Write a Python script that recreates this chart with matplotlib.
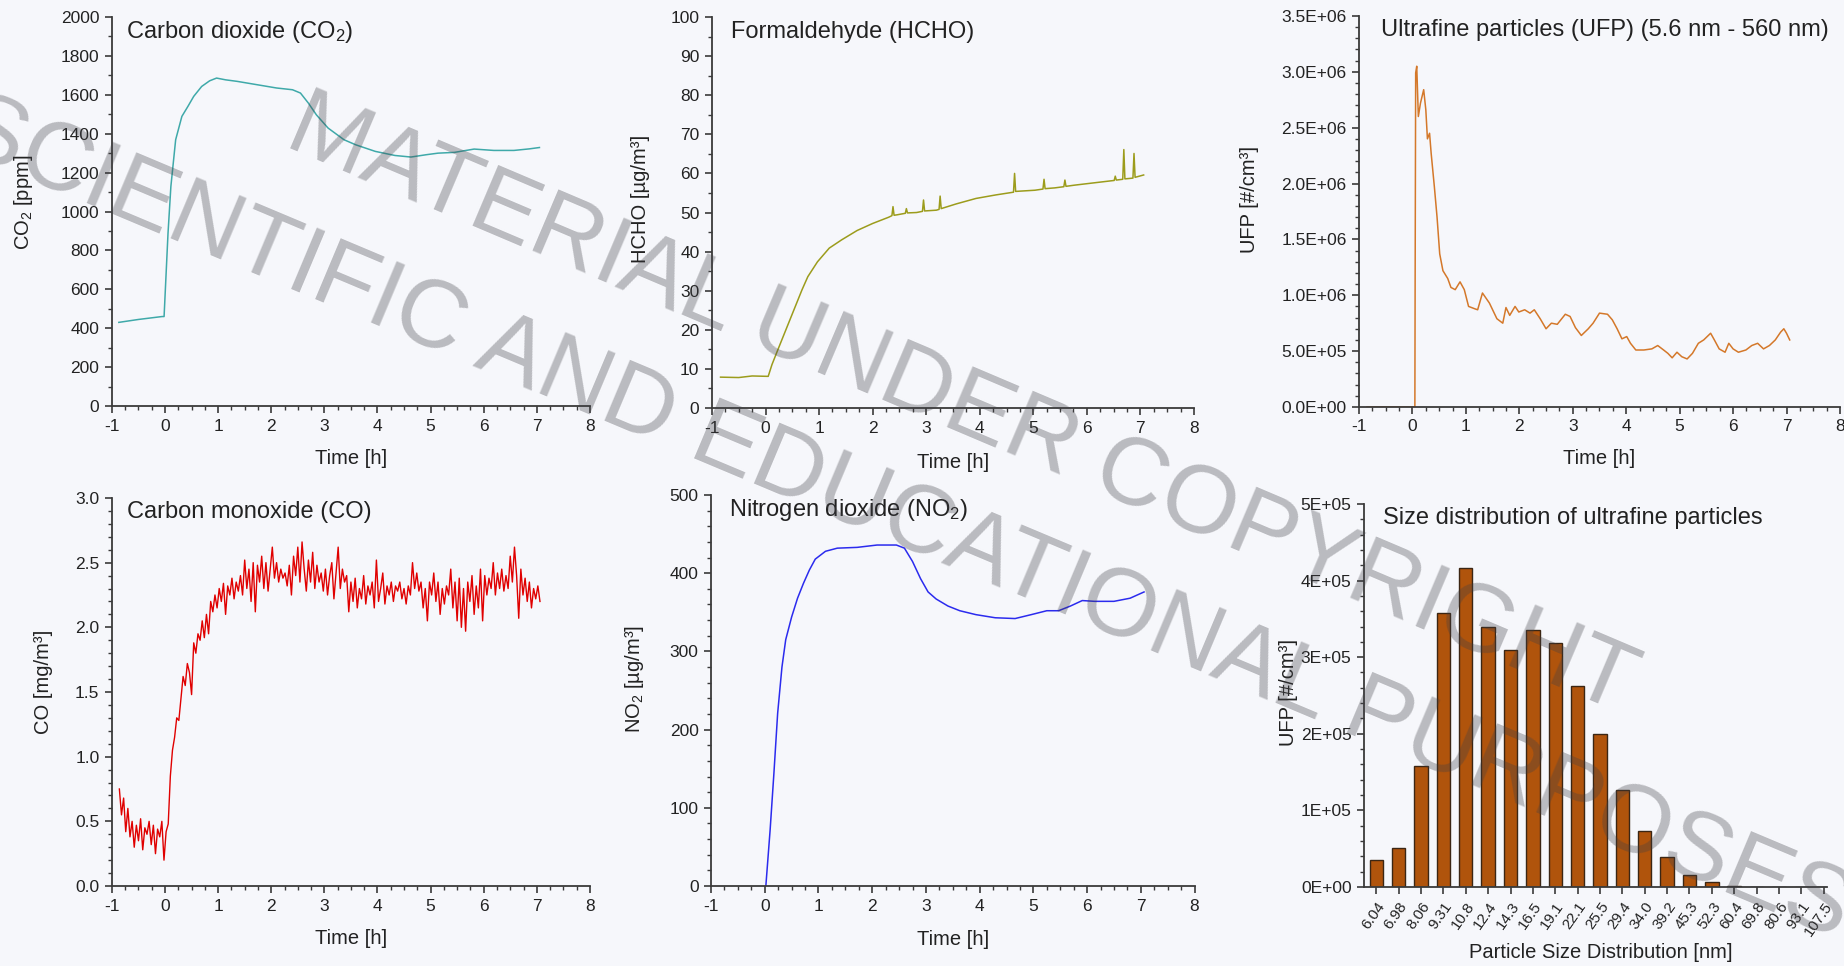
import numpy as np
import matplotlib
matplotlib.use("Agg")
import matplotlib.pyplot as plt
from matplotlib.ticker import MultipleLocator, FixedLocator, FormatStrFormatter

plt.rcParams["font.family"] = ["Liberation Sans", "DejaVu Sans"]
plt.rcParams["axes.unicode_minus"] = False
plt.rcParams["mathtext.fontset"] = "custom"
plt.rcParams["mathtext.rm"] = "Liberation Sans"
plt.rcParams["mathtext.it"] = "Liberation Sans:italic"
plt.rcParams["mathtext.default"] = "regular"

# ---------------- data ----------------
# Carbon dioxide [ppm]
co2_t = [-0.87, -0.5, -0.055, -0.018, 0.056, 0.11, 0.2, 0.317, 0.43, 0.54, 0.69, 0.84,
         0.97, 1.14, 1.36, 1.73, 2.1, 2.4, 2.55, 2.7, 2.85, 3.07, 3.37, 3.59, 3.96,
         4.33, 4.63, 4.92, 5.14, 5.45, 5.82, 6.19, 6.57, 6.86, 7.05]
co2_v = [430, 445, 460, 460, 888, 1129, 1369, 1489, 1540, 1592, 1643, 1672,
         1686, 1677, 1669, 1652, 1635, 1626, 1609, 1557, 1497, 1429, 1369, 1343, 1309,
         1288, 1280, 1292, 1300, 1304, 1321, 1314, 1314, 1322, 1329]

# Formaldehyde [ug/m3]
hcho_t = [-0.84, -0.5, -0.25, 0.05, 0.12, 0.23, 0.38, 0.53, 0.68, 0.79, 0.97, 1.19,
          1.42, 1.71, 2.0, 2.3, 2.36, 2.38, 2.40, 2.45, 2.61, 2.63, 2.65, 2.82, 2.93,
          2.95, 2.97, 3.19, 3.24, 3.26, 3.28, 3.56, 3.93, 4.3, 4.63, 4.65, 4.67, 5.03,
          5.18, 5.2, 5.22, 5.4, 5.57, 5.59, 5.61, 5.77, 6.14, 6.51, 6.53, 6.55, 6.67,
          6.69, 6.71, 6.86, 6.88, 6.90, 7.06]
hcho_v = [7.9, 7.8, 8.2, 8.1, 11.1, 14.9, 20.0, 25.1, 30.2, 33.6, 37.4, 40.9,
          43.0, 45.4, 47.2, 48.8, 49.2, 51.5, 49.3, 49.4, 49.8, 51.0, 49.9, 50.0, 50.3,
          53.2, 50.4, 50.6, 50.8, 54.2, 51.0, 52.2, 53.6, 54.5, 55.2, 60.0, 55.4, 55.7,
          56.0, 58.5, 56.1, 56.3, 56.6, 58.3, 56.7, 57.0, 57.6, 58.2, 59.3, 58.3, 58.5,
          66.1, 58.6, 58.8, 65.1, 59.0, 59.6]

# Ultrafine particles [#/cm3]
ufp_t = [-0.85, 0.024, 0.045, 0.05, 0.06, 0.08, 0.11, 0.15, 0.21, 0.25, 0.28, 0.32,
         0.35, 0.41, 0.46, 0.51, 0.57, 0.66, 0.72, 0.80, 0.89, 0.97, 1.05, 1.16, 1.22,
         1.31, 1.44, 1.58, 1.69, 1.75, 1.82, 1.92, 1.99, 2.1, 2.2, 2.28, 2.39, 2.5,
         2.6, 2.71, 2.86, 2.95, 3.05, 3.16, 3.29, 3.38, 3.5, 3.65, 3.74, 3.83, 3.92,
         4.01, 4.08, 4.18, 4.33, 4.48, 4.59, 4.7, 4.78, 4.86, 4.95, 5.04, 5.14, 5.24,
         5.35, 5.45, 5.58, 5.65, 5.74, 5.85, 5.92, 6.0, 6.1, 6.24, 6.35, 6.46, 6.57,
         6.68, 6.79, 6.89, 6.95, 7.0, 7.06]
ufp_v = [0, 0, 0, 1.12e6, 2.99e6, 3.05e6, 2.6e6, 2.72e6, 2.84e6, 2.66e6, 2.4e6, 2.45e6,
         2.27e6, 1.97e6, 1.70e6, 1.37e6, 1.22e6, 1.15e6, 1.07e6, 1.05e6, 1.12e6, 1.05e6,
         0.90e6, 0.88e6, 0.87e6, 1.02e6, 0.93e6, 0.79e6, 0.75e6, 0.89e6, 0.82e6, 0.90e6,
         0.85e6, 0.87e6, 0.84e6, 0.87e6, 0.79e6, 0.70e6, 0.75e6, 0.74e6, 0.83e6, 0.81e6,
         0.71e6, 0.64e6, 0.70e6, 0.75e6, 0.84e6, 0.83e6, 0.78e6, 0.70e6, 0.61e6, 0.63e6,
         0.57e6, 0.51e6, 0.51e6, 0.52e6, 0.55e6, 0.51e6, 0.48e6, 0.44e6, 0.49e6, 0.45e6,
         0.43e6, 0.48e6, 0.57e6, 0.60e6, 0.66e6, 0.60e6, 0.52e6, 0.49e6, 0.57e6, 0.52e6,
         0.49e6, 0.51e6, 0.55e6, 0.57e6, 0.52e6, 0.55e6, 0.60e6, 0.67e6, 0.70e6, 0.66e6,
         0.60e6]
ufp_ticklabels = ["0.0E+00", "5.0E+05", "1.0E+06", "1.5E+06", "2.0E+06",
                  "2.5E+06", "3.0E+06", "3.5E+06"]

# Carbon monoxide [mg/m3], sampled every 0.04 h from -0.86 h to 7.06 h
co_start, co_end = -0.86, 7.06
co_v = [0.75, 0.55, 0.68, 0.42, 0.60, 0.38, 0.50, 0.30, 0.47, 0.35, 0.52, 0.28,
        0.45, 0.40, 0.50, 0.32, 0.47, 0.25, 0.44, 0.38, 0.50, 0.20, 0.42, 0.48,
        0.85, 1.05, 1.15, 1.30, 1.28, 1.45, 1.62, 1.55, 1.72, 1.65, 1.48, 1.88,
        1.80, 1.95, 1.90, 2.05, 1.92, 2.10, 1.95, 2.20, 2.12, 2.25, 2.15, 2.30,
        2.20, 2.34, 2.10, 2.32, 2.25, 2.38, 2.22, 2.35, 2.28, 2.40, 2.25, 2.52,
        2.30, 2.45, 2.20, 2.50, 2.12, 2.48, 2.35, 2.55, 2.30, 2.50, 2.28, 2.45,
        2.62, 2.38, 2.50, 2.35, 2.45, 2.38, 2.42, 2.32, 2.48, 2.25, 2.55, 2.40,
        2.62, 2.35, 2.66, 2.45, 2.28, 2.52, 2.35, 2.58, 2.30, 2.48, 2.35, 2.42,
        2.28, 2.45, 2.25, 2.40, 2.50, 2.22, 2.42, 2.62, 2.30, 2.45, 2.35, 2.40,
        2.12, 2.35, 2.20, 2.38, 2.15, 2.30, 2.22, 2.40, 2.18, 2.32, 2.25, 2.35,
        2.15, 2.52, 2.20, 2.30, 2.42, 2.18, 2.32, 2.25, 2.35, 2.20, 2.32, 2.28,
        2.35, 2.22, 2.30, 2.18, 2.32, 2.25, 2.50, 2.30, 2.42, 2.28, 2.35, 2.15,
        2.30, 2.05, 2.35, 2.25, 2.42, 2.20, 2.35, 2.10, 2.30, 2.18, 2.32, 2.25,
        2.45, 2.15, 2.35, 2.05, 2.38, 2.00, 2.30, 1.97, 2.35, 2.20, 2.40, 2.10,
        2.32, 2.15, 2.45, 2.05, 2.40, 2.25, 2.38, 2.30, 2.50, 2.25, 2.42, 2.30,
        2.45, 2.28, 2.40, 2.30, 2.55, 2.35, 2.62, 2.40, 2.07, 2.45, 2.25, 2.38,
        2.20, 2.35, 2.15, 2.30, 2.22, 2.32, 2.20]

# Nitrogen dioxide [ug/m3]
no2_t = [0.02, 0.1, 0.17, 0.24, 0.32, 0.39, 0.5, 0.61, 0.72, 0.83, 0.94, 1.13, 1.35,
         1.72, 2.09, 2.45, 2.6, 2.75, 2.9, 3.04, 3.19, 3.41, 3.63, 3.93, 4.29, 4.66,
         4.96, 5.25, 5.47, 5.69, 5.91, 6.14, 6.5, 6.8, 7.06]
no2_v = [0, 72, 144, 221, 280, 315, 344, 368, 387, 404, 418, 428, 432,
         433, 436, 436, 432, 415, 393, 376, 367, 358, 352, 347, 343, 342,
         347, 352, 352, 358, 365, 364, 364, 368, 376]

# Size distribution of ultrafine particles
size_labels = ["6.04", "6.98", "8.06", "9.31", "10.8", "12.4", "14.3", "16.5", "19.1",
               "22.1", "25.5", "29.4", "34.0", "39.2", "45.3", "52.3", "60.4", "69.8",
               "80.6", "93.1", "107.5"]
size_counts = [3.5e4, 5.05e4, 1.58e5, 3.58e5, 4.17e5, 3.39e5, 3.10e5, 3.35e5, 3.19e5,
               2.63e5, 2.0e5, 1.27e5, 7.3e4, 3.9e4, 1.6e4, 7.0e3, 1.5e3, 500, 0, 0, 0]
size_ticklabels = ["0E+00", "1E+05", "2E+05", "3E+05", "4E+05", "5E+05"]

# ---------------- styling ----------------
BG = "#f6f7fb"
AX = "#3a3a3a"
TXT = "#222222"

fig = plt.figure(figsize=(18.44, 9.66), dpi=100, facecolor=BG)


def style(ax):
    ax.set_facecolor(BG)
    for s in ("top", "right"):
        ax.spines[s].set_visible(False)
    for s in ("left", "bottom"):
        ax.spines[s].set_color(AX)
        ax.spines[s].set_linewidth(1.3)
    ax.tick_params(which="major", direction="out", length=5, width=1.2, colors=AX,
                   labelcolor=TXT, labelsize=12.5, pad=4)
    ax.tick_params(which="minor", direction="out", length=3, width=1.0, colors=AX)


def time_axis(ax, xlab_y):
    ax.set_xlim(-1, 8)
    ax.xaxis.set_major_locator(MultipleLocator(1))
    ax.xaxis.set_minor_locator(MultipleLocator(0.25))
    ax.set_xlabel("Time [h]", fontsize=14.5, color=TXT)
    ax.xaxis.set_label_coords(0.5, xlab_y)
    ax.xaxis.label.set_va("center")


def labels(ax, title, tx, ty, ylabel, lx, ly):
    ax.text(tx, ty, title, transform=ax.transAxes, fontsize=17, color=TXT,
            ha="left", va="center")
    ax.set_ylabel(ylabel, fontsize=14.5, color=TXT)
    ax.yaxis.set_label_coords(lx, ly)
    ax.yaxis.label.set_va("center")


# Carbon dioxide
ax = fig.add_axes([0.0607, 0.5797, 0.2592, 0.4027])
style(ax)
ax.plot(co2_t, co2_v, color="#3fa9a9", lw=1.1)
ax.set_ylim(0, 2000)
ax.yaxis.set_major_locator(MultipleLocator(200))
ax.yaxis.set_minor_locator(MultipleLocator(100))
time_axis(ax, -0.134)
labels(ax, "Carbon dioxide (CO$_2$)", 0.030, 0.961, "CO$_2$ [ppm]", -0.185, 0.524)

# Formaldehyde
ax = fig.add_axes([0.3861, 0.5776, 0.2614, 0.4048])
style(ax)
ax.plot(hcho_t, hcho_v, color="#9c9c1c", lw=1.1)
ax.set_ylim(0, 100)
ax.yaxis.set_major_locator(MultipleLocator(10))
ax.yaxis.set_minor_locator(MultipleLocator(5))
time_axis(ax, -0.138)
labels(ax, "Formaldehyde (HCHO)", 0.039, 0.962, "HCHO [µg/m³]", -0.149, 0.535)

# Ultrafine particles
ax = fig.add_axes([0.7370, 0.5787, 0.2608, 0.4048])
style(ax)
ax.plot(ufp_t, ufp_v, color="#d4782a", lw=1.1)
ax.set_ylim(0, 3.5e6)
ax.yaxis.set_major_locator(FixedLocator([i * 5e5 for i in range(len(ufp_ticklabels))]))
ax.set_yticklabels(ufp_ticklabels)
ax.yaxis.set_minor_locator(MultipleLocator(1e5))
time_axis(ax, -0.133)
labels(ax, "Ultrafine particles (UFP) (5.6 nm - 560 nm)", 0.045, 0.964,
       "UFP [#/cm³]", -0.227, 0.53)

# Carbon monoxide
ax = fig.add_axes([0.0607, 0.0828, 0.2592, 0.4017])
style(ax)
co_t = np.linspace(co_start, co_end, len(co_v))
ax.plot(co_t, co_v, color="#e00000", lw=1.0)
ax.set_ylim(0, 3.0)
ax.yaxis.set_major_locator(MultipleLocator(0.5))
ax.yaxis.set_minor_locator(MultipleLocator(0.1))
ax.yaxis.set_major_formatter(FormatStrFormatter("%.1f"))
time_axis(ax, -0.134)
labels(ax, "Carbon monoxide (CO)", 0.032, 0.964, "CO [mg/m³]", -0.143, 0.526)

# Nitrogen dioxide
ax = fig.add_axes([0.3856, 0.0828, 0.2622, 0.4048])
style(ax)
ax.plot(no2_t, no2_v, color="#2b2bee", lw=1.1)
ax.set_ylim(0, 500)
ax.yaxis.set_major_locator(MultipleLocator(100))
ax.yaxis.set_minor_locator(MultipleLocator(20))
time_axis(ax, -0.138)
labels(ax, "Nitrogen dioxide (NO$_2$)", 0.037, 0.962, "NO$_2$ [µg/m³]", -0.159, 0.53)

# Size distribution bars
ax = fig.add_axes([0.7397, 0.0818, 0.2511, 0.3965])
style(ax)
pos = np.arange(len(size_labels))
ax.bar(pos, size_counts, width=0.6, color="#b0540c", edgecolor="#3b2614", linewidth=1.0)
ax.set_xlim(-0.55, 20.15)
ax.set_ylim(0, 5e5)
ax.set_xticks(pos)
ax.set_xticklabels(size_labels, rotation=55, ha="right", rotation_mode="anchor",
                   fontsize=11)
ax.yaxis.set_major_locator(FixedLocator([i * 1e5 for i in range(len(size_ticklabels))]))
ax.set_yticklabels(size_ticklabels)
ax.yaxis.set_minor_locator(MultipleLocator(2e4))
ax.set_xlabel("Particle Size Distribution [nm]", fontsize=14.5, color=TXT)
ax.xaxis.set_label_coords(0.512, -0.17)
ax.xaxis.label.set_va("center")
labels(ax, "Size distribution of ultrafine particles", 0.042, 0.963,
       "UFP [#/cm³]", -0.164, 0.507)

# Copyright stamp across the sheet
wm = dict(fontsize=70, color="#404046", alpha=0.33, ha="center", va="center",
          rotation_mode="anchor", zorder=50)
fig.text(961 / 1844, 1 - 406 / 966, "MATERIAL UNDER COPYRIGHT", rotation=-23, **wm)
fig.text(905 / 1844, 1 - 520 / 966, "SCIENTIFIC AND EDUCATIONAL PURPOSES",
         rotation=-22.8, **wm)

fig.savefig("out.png", dpi=100, facecolor=BG)
